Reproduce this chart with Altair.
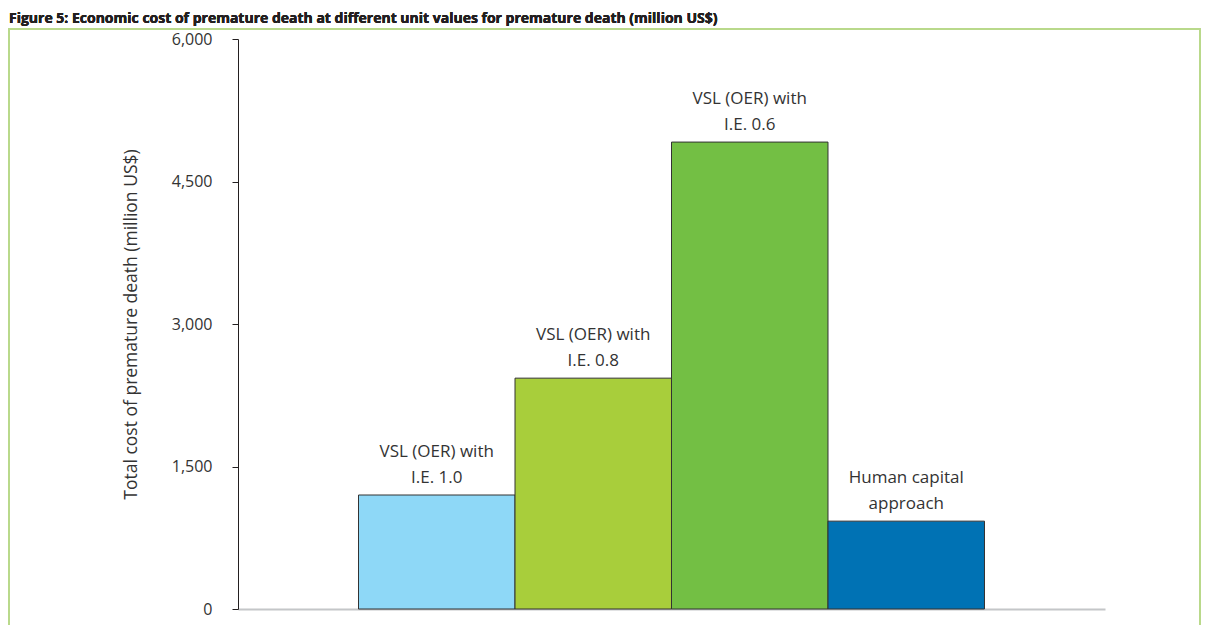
import altair as alt
import pandas as pd

# ---- data ----
categories = ["VSL (OER) with I.E. 1.0", "VSL (OER) with I.E. 0.8",
              "VSL (OER) with I.E. 0.6", "Human capital approach"]
label_line1 = ["VSL (OER) with", "VSL (OER) with", "VSL (OER) with", "Human capital"]
label_line2 = ["I.E. 1.0", "I.E. 0.8", "I.E. 0.6", "approach"]
values = [1200, 2430, 4915, 925]
bar_colors = ["#8ed8f7", "#a8ce3b", "#73bf44", "#0072b4"]
y_ticks = [0, 1500, 3000, 4500, 6000]
title_text = "Figure 5: Economic cost of premature death at different unit values for premature death (million US$)"
y_title = "Total cost of premature death (million US$)"

df = pd.DataFrame({
    "category": categories,
    "value": values,
    "label": [a + "\n" + b for a, b in zip(label_line1, label_line2)],
})

FONT = "Open Sans"
W, H = 867, 570
LH = 26

x_enc = alt.X("category:N", sort=categories,
              scale=alt.Scale(paddingInner=0, paddingOuter=0.77),
              axis=alt.Axis(labels=False, ticks=False, title=None,
                            domainColor="#c4c6c8", domainWidth=2))
y_enc = alt.Y("value:Q", scale=alt.Scale(domain=[0, 6000], nice=False),
              axis=alt.Axis(values=y_ticks, format=",.0f", title=y_title,
                            grid=False, domainColor="#231f20", tickColor="#231f20",
                            tickSize=6, labelPadding=20, labelFontSize=16,
                            labelFont=FONT, labelColor="#333333",
                            titleFont=FONT, titleFontSize=17.5, titleFontWeight="normal",
                            titleColor="#333333", titleX=-107, titleY=H / 2,
                            titleAngle=-90, titleAlign="center", titleBaseline="middle"))

bars = alt.Chart(df).mark_bar(stroke="#333333", strokeWidth=1).encode(
    x=x_enc, y=y_enc,
    color=alt.Color("category:N", scale=alt.Scale(domain=categories, range=bar_colors),
                    legend=None),
)

labels = alt.Chart(df).mark_text(
    lineBreak="\n", lineHeight=LH, baseline="alphabetic", dy=-12 - LH,
    font=FONT, fontSize=17, color="#333333", align="center"
).encode(x=alt.X("category:N", sort=categories), y="value:Q", text="label:N")

frame = alt.Chart(df).mark_rect(fillOpacity=0, stroke="#b9d98a", strokeWidth=1.5).encode(
    x=alt.value(-229), x2=alt.value(962), y=alt.value(-10), y2=alt.value(640)
)

title = alt.Chart(df).mark_text(
    text=title_text, align="left", baseline="alphabetic",
    font=FONT, fontSize=14, fontWeight="bold", color="#231f20"
).encode(x=alt.value(-229), y=alt.value(-16))

chart = alt.layer(frame, bars, labels, title).properties(
    width=W, height=H,
    autosize=alt.AutoSizeParams(type="none"),
    padding={"left": 230, "top": 31, "right": 96, "bottom": 16},
    background="white",
).configure_view(strokeWidth=0)

chart.save("out.html", embed_options={"renderer": "svg", "actions": False})
